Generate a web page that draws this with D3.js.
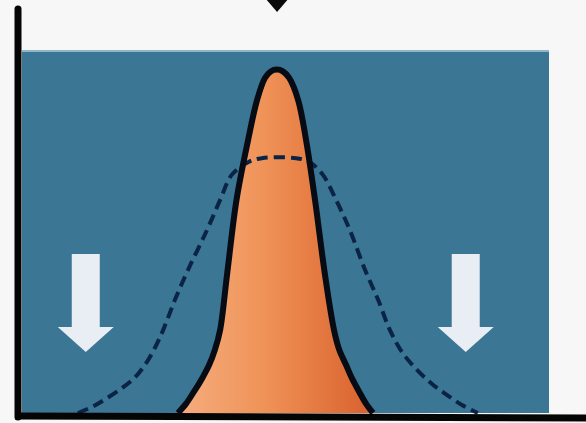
<!DOCTYPE html>
<html>
<head>
<meta charset="utf-8">
<script src="https://cdn.jsdelivr.net/npm/d3@7"></script>
<style>
  body { margin: 0; background: #f7f7f7; }
  svg { display: block; }
</style>
</head>
<body>
<div id="chart"></div>
<script>
// narrow (after) distribution
var narrowX = [29.6, 31.1, 32.6, 34.2, 35.5, 36.6, 37.6, 38.9, 40.7, 42.9, 44.6, 46.1, 47.2, 48.4, 49.5, 50.7, 52.4, 53.9, 55.6, 57.5, 59.2, 60.2, 61.5, 62.6, 64.0, 65.3, 66.6];
var narrowY = [0, 2.5, 5.8, 9.6, 13.2, 17.4, 22.9, 38.0, 58.7, 75.2, 86.2, 92.3, 94.1, 94.6, 94.1, 92.3, 86.2, 75.2, 58.7, 38.0, 22.9, 17.4, 13.2, 9.6, 5.8, 2.5, 0];

// wide (before) distribution, dashed
var wideX = [10.6, 13.3, 15.9, 19.0, 21.3, 23.3, 25.2, 26.8, 29.0, 31.5, 35.1, 37.6, 39.8, 42.9, 45.5, 52.0, 54.6, 57.1, 59.6, 62.2, 65.1, 67.6, 69.8, 72.1, 75.0, 77.8, 80.6, 83.5, 86.5];
var wideY = [0, 1.7, 3.9, 6.9, 9.6, 13.2, 17.9, 22.9, 31.1, 39.4, 50.4, 58.7, 65.6, 69.1, 70.2, 70.2, 69.1, 65.6, 58.7, 50.4, 39.4, 31.1, 22.9, 16.8, 11.8, 8.0, 5.0, 2.2, 0];

// down arrows in the tails
var arrowX = [12.1, 84.2];
var arrowTop = 43.8, arrowBase = 23.7, arrowTip = 16.8;

var width = 586, height = 423;

var svg = d3.select("#chart")
    .append("svg")
    .attr("width", width)
    .attr("height", height);

var x = d3.scaleLinear().domain([0, 100]).range([22, 549]);
var y = d3.scaleLinear().domain([0, 100]).range([413, 50]);

var defs = svg.append("defs");
var grad = defs.append("linearGradient")
    .attr("id", "orange")
    .attr("x1", "0%").attr("x2", "100%")
    .attr("y1", "0%").attr("y2", "0%");
grad.append("stop").attr("offset", "0%").attr("stop-color", "#f6ad7e");
grad.append("stop").attr("offset", "45%").attr("stop-color", "#ef9257");
grad.append("stop").attr("offset", "100%").attr("stop-color", "#d9602c");

// blue panel
svg.append("rect")
    .attr("x", x(0))
    .attr("y", y(100))
    .attr("width", x(100) - x(0))
    .attr("height", y(0) - y(100))
    .attr("fill", "#3b7695");

svg.append("line")
    .attr("x1", x(0)).attr("x2", x(100))
    .attr("y1", y(100) + 1).attr("y2", y(100) + 1)
    .attr("stroke", "#8fb7c9")
    .attr("stroke-width", 2);

var narrow = narrowX.map(function(d, i) { return [d, narrowY[i]]; });
var wide = wideX.map(function(d, i) { return [d, wideY[i]]; });

var area = d3.area()
    .x(function(d) { return x(d[0]); })
    .y0(y(0))
    .y1(function(d) { return y(d[1]); })
    .curve(d3.curveCatmullRom.alpha(0.5));

var line = d3.line()
    .x(function(d) { return x(d[0]); })
    .y(function(d) { return y(d[1]); })
    .curve(d3.curveCatmullRom.alpha(0.5));

svg.append("path")
    .datum(narrow)
    .attr("d", area)
    .attr("fill", "url(#orange)");

svg.append("path")
    .datum(wide)
    .attr("d", line)
    .attr("fill", "none")
    .attr("stroke", "#0b2445")
    .attr("stroke-width", 4)
    .attr("stroke-dasharray", "11,6");

svg.append("path")
    .datum(narrow)
    .attr("d", line)
    .attr("fill", "none")
    .attr("stroke", "#070b14")
    .attr("stroke-width", 6)
    .attr("stroke-linejoin", "round");

// white arrows
var sw = 14, hw = 28;
svg.selectAll(".down")
    .data(arrowX)
    .enter()
    .append("path")
    .attr("class", "down")
    .attr("d", function(d) {
        var cx = x(d);
        return "M" + (cx - sw) + "," + y(arrowTop) +
            "L" + (cx + sw) + "," + y(arrowTop) +
            "L" + (cx + sw) + "," + y(arrowBase) +
            "L" + (cx + hw) + "," + y(arrowBase) +
            "L" + cx + "," + y(arrowTip) +
            "L" + (cx - hw) + "," + y(arrowBase) +
            "L" + (cx - sw) + "," + y(arrowBase) + "Z";
    })
    .attr("fill", "#e8eef3");

// arrow tip at the top
svg.append("path")
    .attr("d", "M" + (x(48.4) - 12) + ",-2L" + (x(48.4) + 12) + ",-2L" + x(48.4) + ",12Z")
    .attr("fill", "#0a0a0a");

// axes
svg.append("line")
    .attr("x1", 18).attr("y1", 9)
    .attr("x2", 18).attr("y2", 417)
    .attr("stroke", "#050505")
    .attr("stroke-width", 7)
    .attr("stroke-linecap", "round");

svg.append("line")
    .attr("x1", 15).attr("y1", 416)
    .attr("x2", width).attr("y2", 418)
    .attr("stroke", "#050505")
    .attr("stroke-width", 7);
</script>
</body>
</html>
